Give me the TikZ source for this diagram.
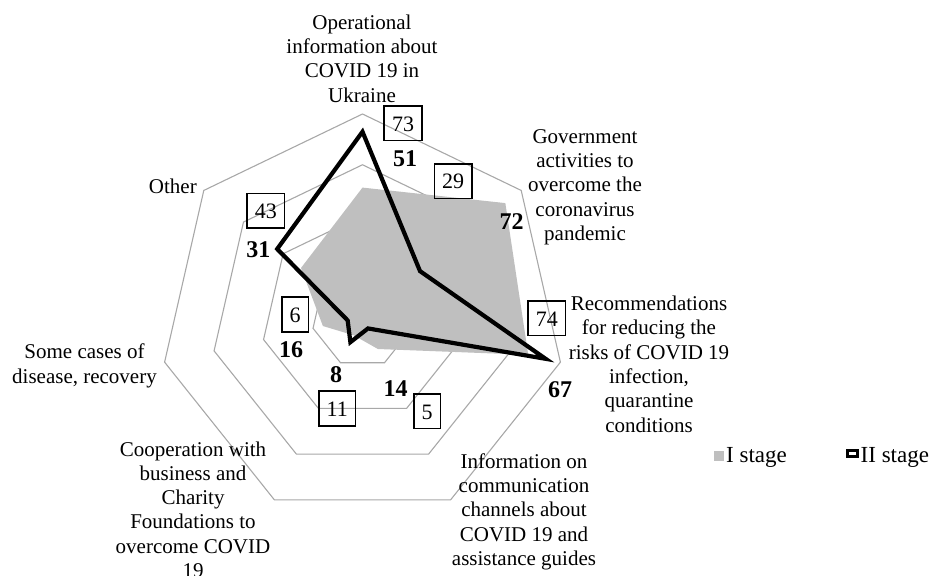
\documentclass[tikz,border=0pt]{standalone}
\usepackage{fontspec}
\setmainfont{Liberation Serif}
\definecolor{ringgray}{RGB}{168,168,168}
\definecolor{fillgray}{RGB}{191,191,191}
\begin{document}
\begin{tikzpicture}[x=1pt,y=-1pt,
  ring/.style={draw=ringgray,line width=1.1pt},
  cat/.style={font=\fontsize{21}{24.3}\selectfont,align=center,inner sep=0pt,anchor=base},
  bnum/.style={font=\fontsize{24}{24}\selectfont\bfseries,inner sep=0pt},
  boxnum/.style={draw=black,line width=1.6pt,font=\fontsize{22}{22}\selectfont,inner xsep=7.8pt,inner ysep=9.6pt,text height=15.5pt,text depth=0pt},
  leg/.style={font=\fontsize{23}{23}\selectfont,inner sep=0pt,anchor=base west}]
\useasboundingbox (0,0) rectangle (935,576);
\def\u{2.5375pt}
\begin{scope}[shift={(362.5,317)}]
  % grid rings
  \foreach \r in {50.75,101.5,152.25,203}
    \draw[ring] (90:\r pt) \foreach \k in {1,...,6}{ -- ({90-\k*360/7}:\r pt)} -- cycle;
  % I stage
  \fill[fillgray] (90:{51*\u}) -- (38.5714:{72*\u}) -- (-12.8571:{67*\u})
     -- (-64.2857:{14*\u}) -- (-115.7143:{8*\u}) -- (-167.1429:{16*\u})
     -- (141.4286:{31*\u}) -- cycle;
  % II stage
  \draw[line width=4.2pt] (90:{73*\u}) -- (38.5714:{29*\u}) -- (-12.8571:{74*\u})
     -- (-64.2857:{5*\u}) -- (-115.7143:{11*\u}) -- (-167.1429:{6*\u})
     -- (141.4286:{43*\u}) -- cycle;
\end{scope}
% category labels (anchor = baseline of last line)
\node[cat] (op) at (362,102) {Operational\\information about\\COVID 19 in\\Ukraine};
\node[cat] (gov) at (585,240.5) {Government\\activities to\\overcome the\\coronavirus\\pandemic};
\node[cat] (rec) at (649,432) {Recommendations\\for reducing the\\risks of COVID 19\\infection,\\quarantine\\conditions};
\node[cat] (inf) at (524,565.5) {Information on\\communication\\channels about\\COVID 19 and\\assistance guides};
\node[cat] (coop) at (193,577.5) {Cooperation with\\business and\\Charity\\Foundations to\\overcome COVID\\19};
\node[cat] (some) at (84.5,383) {Some cases of\\disease, recovery};
\node[cat,anchor=base east] (oth) at (197,193) {Other};
% I stage values
\node[bnum] (v1) at (405,158.5) {51};
\node[bnum] (v2) at (511.7,221.7) {72};
\node[bnum] (v3) at (560,390) {67};
\node[bnum] (v4) at (395.7,388.3) {14};
\node[bnum] (v5) at (336,375) {8};
\node[bnum] (v6) at (291,349.3) {16};
\node[bnum] (v7) at (258.3,250) {31};
% II stage values
\node[boxnum] (w1) at (403,123.3) {73};
\node[boxnum] (w2) at (453.2,181.2) {29};
\node[boxnum] (w3) at (546.8,318.3) {74};
\node[boxnum] (w4) at (427.2,411.3) {5};
\node[boxnum] (w5) at (337.2,408.5) {11};
\node[boxnum] (w6) at (295,314.5) {6};
\node[boxnum] (w7) at (265.8,210.8) {43};
% legend
\fill[fillgray] (713.5,451) rectangle (723.5,461);
\node[leg] (l1) at (726,462) {I stage};
\draw[line width=3pt] (847.5,450.8) rectangle (857.2,456.8);
\node[leg] (l2) at (860.5,462) {II stage};
\end{tikzpicture}
\end{document}
